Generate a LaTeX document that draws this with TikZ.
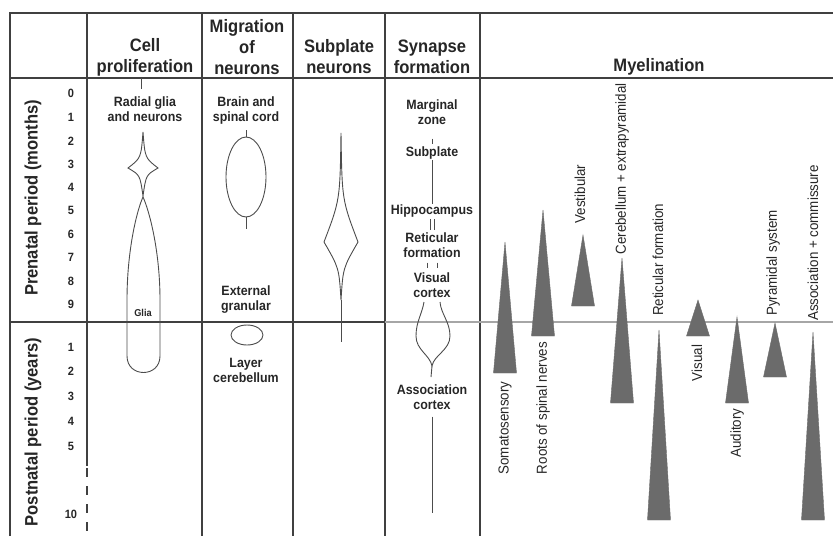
\documentclass[tikz,border=0pt]{standalone}
\usepackage{fontspec}
\setmainfont{Liberation Sans}
\newfontfamily\narrowsans[FakeStretch=0.92]{Liberation Sans}
\usepackage{tikz}

\begin{document}
\begin{tikzpicture}[x = 1pt, y = -1pt,
    frame/.style = {line width = 1.6pt, color = black!75},
    outline/.style = {line width = 0.9pt, color = black!70},
    wedge/.style = {fill = black!58, draw = black!58, line width = 0.4pt},
    head/.style = {align = center, text = black!85,
        font = \narrowsans\bfseries\fontsize{18}{21}\selectfont},
    small/.style = {align = center, text = black!85, inner sep = 1pt,
        font = \narrowsans\bfseries\fontsize{13.5}{15}\selectfont},
    tick/.style = {text = black!85, inner sep = 1pt,
        font = \narrowsans\bfseries\fontsize{12}{12}\selectfont},
    tract/.style = {rotate = 90, text = black!85, inner sep = 1pt,
        font = \narrowsans\fontsize{14.5}{15}\selectfont}]
\useasboundingbox (0, 0) rectangle (833, 536);

\draw [frame] (10, 536) -- (10, 13) -- (833, 13);
\draw [frame, line width = 2.6pt] (10, 78) -- (833, 78);
\draw [frame] (87, 13) -- (87, 466);
\draw [frame, line width = 1.2pt, dash pattern = on 9pt off 9pt] (87, 468) -- (87, 536);
\draw [frame] (202, 13) -- (202, 536);
\draw [frame] (293, 13) -- (293, 536);
\draw [frame] (385, 13) -- (385, 536);
\draw [frame] (480, 13) -- (480, 536);
\draw [frame] (10, 322) -- (385, 322);
\draw [line width = 1.6pt, color = black!35] (385, 322) -- (833, 322);

\node [head] (cellhead) at (145, 57) {Cell\\proliferation};
\node [head] (mighead) at (247, 47) {Migration\\of\\neurons};
\node [head] (subhead) at (339, 57) {Subplate\\neurons};
\node [head] (synhead) at (432, 57) {Synapse\\formation};
\node [head] (myelhead) at (659, 67) {Myelination};

\node [head, rotate = 90] (prenatal) at (33, 198) {Prenatal period (months)};
\node [head, rotate = 90] (postnatal) at (33, 432) {Postnatal period (years)};
\foreach \ym [count = \k from 0] in {93, 117, 141, 164, 187, 210, 234, 257, 281, 304}
    \node [tick] (pre\k) at (71, \ym) {\k};
\foreach \n/\ym in {1/347, 2/371, 3/396, 4/421, 5/446, 10/514}
    \node [tick] (post\n) at (71, \ym) {\n};

\draw [outline] (141, 78) -- (141, 89);
\node [small] (radial) at (145, 109) {Radial glia\\and neurons};
\draw [outline] (143, 132) .. controls (145, 158) .. (158, 168)
    .. controls (146, 175) .. (143, 196)
    .. controls (140, 175) .. (128, 168)
    .. controls (141, 158) .. cycle;
\draw [outline] (143, 197) .. controls (137, 210) and (127, 250) .. (127, 300)
    -- (127, 356) .. controls (127, 378) and (160, 378) .. (160, 356)
    -- (160, 300) .. controls (160, 250) and (149, 210) .. cycle;
\node [tick, fill = white, font = \narrowsans\bfseries\fontsize{10}{10}\selectfont] (glia) at (143, 313) {Glia};

\node [small] (brain) at (246, 111) {Brain and\\spinal cord};
\draw [outline] (246, 130) -- (246, 137);
\draw [outline] (246, 177) ellipse [x radius = 20, y radius = 40];
\draw [outline] (246, 217) -- (246, 229);
\node [small] (external) at (246, 300) {External\\granular};
\draw [outline] (247, 335) ellipse [x radius = 16, y radius = 10];
\node [small] (layer) at (246, 370) {Layer\\cerebellum};

\draw [outline] (341, 133) .. controls (342, 200) .. (358, 242)
    .. controls (343, 268) .. (341, 300)
    .. controls (339, 268) .. (324, 242)
    .. controls (340, 200) .. cycle;
\draw [outline] (341, 300) -- (341, 342);

\node [small] (marginal) at (432, 112) {Marginal\\zone};
\node [small] (subplate) at (432, 153) {Subplate};
\node [small] (hippo) at (432, 211) {Hippocampus};
\node [small] (reticular) at (432, 245) {Reticular\\formation};
\node [small] (visual) at (432, 285) {Visual\\cortex};
\node [small] (assoc) at (432, 397) {Association\\cortex};
\coordinate (assocend) at (432, 513);
\draw [outline, shorten < = 13pt, shorten > = 2pt] (marginal) -- (subplate);
\draw [outline] (subplate) -- (hippo);
\draw [outline, shorten < = 1pt, shorten > = 1pt] ([xshift = -2pt] hippo.south) -- ([xshift = -2pt] reticular.north);
\draw [outline, shorten < = 1pt, shorten > = 1pt] ([xshift = 2pt] hippo.south) -- ([xshift = 2pt] reticular.north);
\draw [outline, shorten < = 4pt, shorten > = 3pt] ([xshift = -5pt] reticular.south) -- ([xshift = -5pt] visual.north);
\draw [outline, shorten < = 4pt, shorten > = 3pt] ([xshift = 5pt] reticular.south) -- ([xshift = 5pt] visual.north);
\draw [outline] (424, 302) .. controls (422, 314) and (416, 322) .. (416, 336)
    .. controls (416, 350) and (430, 355) .. (432, 366)
    .. controls (434, 355) and (450, 350) .. (450, 336)
    .. controls (450, 322) and (441, 314) .. (440, 302);
\draw [outline] (432, 366) -- (431, 377);
\draw [outline, shorten < = 6pt] (assoc) -- (assocend);

\foreach \xm/\ya/\yb in {505/242/373, 543/210/336, 583/235/306, 622/258/403, 659/330/520,
    698/300/336, 737/317/403, 775/323/377, 813/332/520}
    \filldraw [wedge] (\xm, \ya) -- (\xm + 11.5, \yb) -- (\xm - 11.5, \yb) -- cycle;

\node [tract] (soma) at (505, 428) {Somatosensory};
\node [tract] (roots) at (543, 408) {Roots of spinal nerves};
\node [tract] (vestib) at (580, 194) {Vestibular};
\node [tract] (cereb) at (622, 169) {Cerebellum + extrapyramidal};
\node [tract] (retic) at (658, 260) {Reticular formation};
\node [tract] (vis) at (697, 363) {Visual};
\node [tract] (audit) at (737, 433) {Auditory};
\node [tract] (pyram) at (773, 263) {Pyramidal system};
\node [tract] (assoccom) at (813, 243) {Association + commissure};
\end{tikzpicture}
\end{document}
